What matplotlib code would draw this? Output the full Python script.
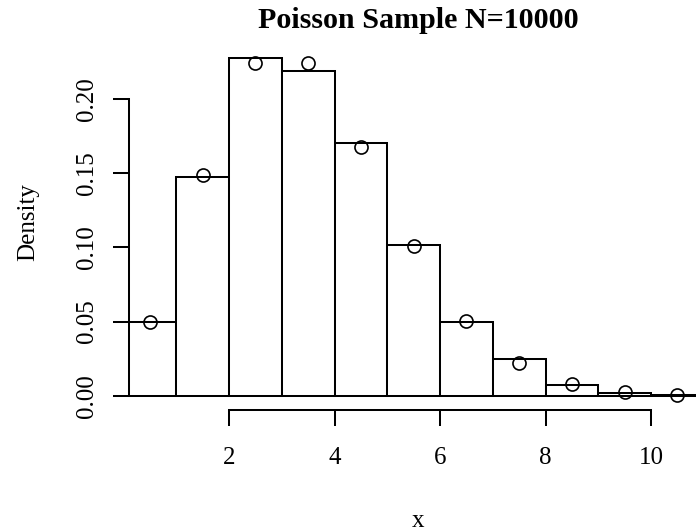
import matplotlib
matplotlib.use("Agg")
import matplotlib.pyplot as plt

# Data
bin_edges = [0, 1, 2, 3, 4, 5, 6, 7, 8, 9, 10, 11]
density = [0.0497, 0.1472, 0.2278, 0.2187, 0.1703, 0.1016, 0.0497, 0.0249, 0.0070, 0.0020, 0.0008]
point_x = [0.5, 1.5, 2.5, 3.5, 4.5, 5.5, 6.5, 7.5, 8.5, 9.5, 10.5]
point_y = [0.0498, 0.1490, 0.2240, 0.2240, 0.1680, 0.1010, 0.0504, 0.0218, 0.0081, 0.0027, 0.0008]
xticks = [2, 4, 6, 8, 10]
yticks = [0.00, 0.05, 0.10, 0.15, 0.20]
ytick_labels = ["0.00", "0.05", "0.10", "0.15", "0.20"]

plt.rcParams['font.family'] = ['Liberation Serif', 'DejaVu Serif']

W, H = 696, 532
fig = plt.figure(figsize=(W / 100, H / 100), dpi=100)
left_px, right_px, top_px, bottom_px = 129, 708, 44.3, 410
ax = fig.add_axes([left_px / W, 1 - bottom_px / H, (right_px - left_px) / W, (bottom_px - top_px) / H])

lw = 1.45
widths = [bin_edges[i + 1] - bin_edges[i] for i in range(len(density))]
ax.bar(bin_edges[:-1], density, width=widths, align='edge', facecolor='white',
       edgecolor='black', linewidth=lw)
ax.plot(point_x, point_y, 'o', mfc='none', mec='black', ms=9.4, mew=1.2, clip_on=False)

ax.set_xlim(0.104, 11.08)
ax.set_ylim(-0.0096, 0.2369)

for s in ['top', 'right']:
    ax.spines[s].set_visible(False)
ax.spines['left'].set_bounds(0, 0.20)
ax.spines['bottom'].set_bounds(2, 10)
ax.spines['left'].set_linewidth(lw)
ax.spines['bottom'].set_linewidth(lw)

ax.set_xticks(xticks)
ax.set_xticklabels([str(t) for t in xticks])
ax.set_yticks(yticks)
ax.set_yticklabels(ytick_labels, rotation=90, va='center')
ax.tick_params(axis='both', length=11.5, width=lw, labelsize=18, color='black')
ax.tick_params(axis='y', pad=11)
ax.tick_params(axis='x', pad=15)

fig.text(418 / W, 1 - 20 / H, "Poisson Sample N=10000", ha='center', va='center',
         fontsize=21.6, fontweight='bold')
fig.text(418 / W, 1 - 527 / H, "x", ha='center', va='baseline', fontsize=18)
fig.text(28 / W, 1 - 222 / H, "Density", ha='center', va='center', rotation=90, fontsize=18)

fig.savefig("out.png", dpi=100)
